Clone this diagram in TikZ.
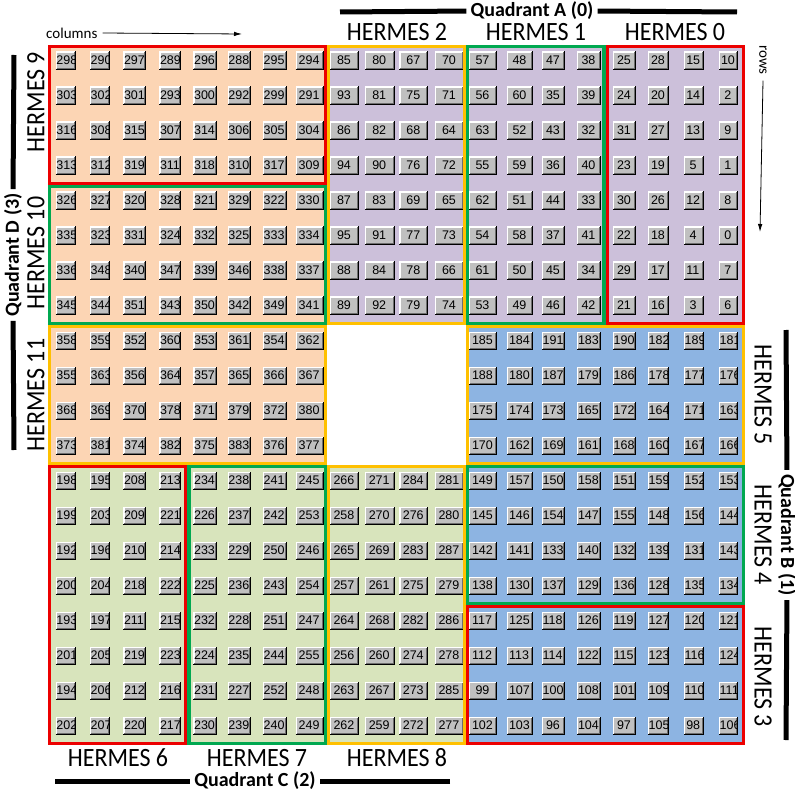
\documentclass[tikz,border=0pt]{standalone}
\usepackage{fontspec}
\setmainfont{Carlito}
\newfontfamily\numfont{Liberation Sans}
\usetikzlibrary{arrows.meta}
\definecolor{qpeach}{RGB}{252,213,180}
\definecolor{qlav}{RGB}{204,192,218}
\definecolor{qblue}{RGB}{141,180,226}
\definecolor{qgreen}{RGB}{216,228,188}
\definecolor{hred}{RGB}{236,0,0}
\definecolor{hgreen}{RGB}{0,168,80}
\definecolor{hyellow}{RGB}{255,192,0}
\definecolor{btnface}{RGB}{192,192,192}
\definecolor{btnshadow}{RGB}{110,110,110}
\def\colL{{55.7,90,123.3,159.3,193.3,227.7,262.7,295.7,330,365,399.3,435,469,507,542,577,613,648,684,719}}
\def\colW{{20,20,22.5,22,23.5,23.5,24,28,29,29.5,29,29,28,26,23,24,23,21,19.5,19}}
\def\btnH{18.5}
\newcommand\tallT[2]{\scalebox{1}[#1]{#2}}
\newcommand\mybutton[3]{%
  \pgfmathsetmacro\btL{\colL[#2]}%
  \pgfmathsetmacro\btW{\colW[#2]}%
  \pgfmathsetmacro\btT{51.5+35*#1}%
  \pgfmathsetmacro\btR{\btL+\btW}%
  \pgfmathsetmacro\btB{\btT+\btnH}%
  \pgfmathsetmacro\btN{#3<10 ? 1 : (#3<100 ? 2 : 3)}%
  \pgfmathsetmacro\btX{\btL+max(0.5,(\btW-1.5-6.95*\btN)/2)}%
  \fill[btnface] (\btL,\btT) rectangle (\btR,\btB);
  \draw[white,line width=1.2pt] (\btL+0.6,\btB-1) -- (\btL+0.6,\btT+0.6) -- (\btR-1,\btT+0.6);
  \draw[btnshadow,line width=1pt] (\btL+1,\btB-1.5) -- (\btR-1.5,\btB-1.5) -- (\btR-1.5,\btT+1);
  \draw[black,line width=1pt] (\btL,\btB-0.5) -- (\btR-0.5,\btB-0.5) -- (\btR-0.5,\btT);
  \begin{scope}
    \clip (\btL,\btT) rectangle (\btR-1.5,\btB);
    \node[numtxt] (n#3) at (\btX,\btT+8.6) {#3};
  \end{scope}
}
\newcommand\btnrow[3]{%
  \foreach \v [count=\k from 0] in {#3} {%
    \pgfmathtruncatemacro\cc{#2+\k}%
    \mybutton{#1}{\cc}{\v}%
  }%
}
\begin{document}
\begin{tikzpicture}[x=1pt,y=-1pt,
  numtxt/.style={anchor=west,inner sep=0pt,font=\fontsize{12.5}{14}\numfont},
  hlab/.style={inner sep=0pt,font=\fontsize{24}{28}\selectfont},
  qlab/.style={inner sep=0pt,font=\fontsize{20}{24}\selectfont\bfseries},
  qbar/.style={line width=5pt,black,shorten >=4pt},
  hbox/.style={line width=3.5pt}]
\useasboundingbox (0,0) rectangle (795,794);
\fill[white] (0,0) rectangle (795,794);
% quadrant backgrounds
\fill[qpeach] (48,45) rectangle (326.8,465);
\fill[qlav] (326.8,45) rectangle (745,325);
\fill[qblue] (466.2,325) rectangle (745,745);
\fill[qgreen] (48,465) rectangle (466.2,745);
% buttons
\btnrow{0}{0}{298,290,297,289,296,288,295,294,85,80,67,70,57,48,47,38,25,28,15,10}
\btnrow{1}{0}{303,302,301,293,300,292,299,291,93,81,75,71,56,60,35,39,24,20,14,2}
\btnrow{2}{0}{316,308,315,307,314,306,305,304,86,82,68,64,63,52,43,32,31,27,13,9}
\btnrow{3}{0}{313,312,319,311,318,310,317,309,94,90,76,72,55,59,36,40,23,19,5,1}
\btnrow{4}{0}{326,327,320,328,321,329,322,330,87,83,69,65,62,51,44,33,30,26,12,8}
\btnrow{5}{0}{335,323,331,324,332,325,333,334,95,91,77,73,54,58,37,41,22,18,4,0}
\btnrow{6}{0}{336,348,340,347,339,346,338,337,88,84,78,66,61,50,45,34,29,17,11,7}
\btnrow{7}{0}{345,344,351,343,350,342,349,341,89,92,79,74,53,49,46,42,21,16,3,6}
\btnrow{8}{0}{358,359,352,360,353,361,354,362}
\btnrow{8}{12}{185,184,191,183,190,182,189,181}
\btnrow{9}{0}{355,363,356,364,357,365,366,367}
\btnrow{9}{12}{188,180,187,179,186,178,177,176}
\btnrow{10}{0}{368,369,370,378,371,379,372,380}
\btnrow{10}{12}{175,174,173,165,172,164,171,163}
\btnrow{11}{0}{373,381,374,382,375,383,376,377}
\btnrow{11}{12}{170,162,169,161,168,160,167,166}
\btnrow{12}{0}{198,195,208,213,234,238,241,245,266,271,284,281,149,157,150,158,151,159,152,153}
\btnrow{13}{0}{199,203,209,221,226,237,242,253,258,270,276,280,145,146,154,147,155,148,156,144}
\btnrow{14}{0}{192,196,210,214,233,229,250,246,265,269,283,287,142,141,133,140,132,139,131,143}
\btnrow{15}{0}{200,204,218,222,225,236,243,254,257,261,275,279,138,130,137,129,136,128,135,134}
\btnrow{16}{0}{193,197,211,215,232,228,251,247,264,268,282,286,117,125,118,126,119,127,120,121}
\btnrow{17}{0}{201,205,219,223,224,235,244,255,256,260,274,278,112,113,114,122,115,123,116,124}
\btnrow{18}{0}{194,206,212,216,231,227,252,248,263,267,273,285,99,107,100,108,101,109,110,111}
\btnrow{19}{0}{202,207,220,217,230,239,240,249,262,259,272,277,102,103,96,104,97,105,98,106}
% HERMES boxes: yellow, then red, then green
\draw[hbox,hyellow] (328.3,46.5) rectangle (464.7,323.5);   % HERMES 2
\draw[hbox,hyellow] (49.5,326.5) rectangle (325.3,463.5);   % HERMES 11
\draw[hbox,hyellow] (467.7,326.5) rectangle (743.5,463.5);  % HERMES 5
\draw[hbox,hyellow] (328.3,466.5) rectangle (464.7,743.5);  % HERMES 8
\draw[hbox,hred] (49.5,46.5) rectangle (325.3,183.5);       % HERMES 9
\draw[hbox,hred] (607.1,46.5) rectangle (743.5,323.5);      % HERMES 0
\draw[hbox,hred] (467.7,606.5) rectangle (743.5,743.5);     % HERMES 3
\draw[hbox,hred] (49.5,466.5) rectangle (185.9,743.5);      % HERMES 6
\draw[hbox,hgreen] (49.5,186.5) rectangle (325.3,323.5);    % HERMES 10
\draw[hbox,hgreen] (467.7,46.5) rectangle (604.1,323.5);    % HERMES 1
\draw[hbox,hgreen] (467.7,466.5) rectangle (743.5,603.5);   % HERMES 4
\draw[hbox,hgreen] (188.9,466.5) rectangle (325.3,743.5);   % HERMES 7
% top labels
\node[hlab] (lh2) at (397,32) {\tallT{1.1}{HERMES 2}};
\node[hlab] (lh1) at (536,32) {\tallT{1.1}{HERMES 1}};
\node[hlab] (lh0) at (675,32) {\tallT{1.1}{HERMES 0}};
\node[qlab] (lqa) at (532,11) {Quadrant A (0)};
\coordinate (qaL) at (340,12);
\coordinate (qaR) at (737,12);
\draw[qbar] (qaL) -- (lqa.west);
\draw[qbar] (qaR) -- (lqa.east);
% bottom labels
\node[hlab] (lh6) at (118,758) {\tallT{1.1}{HERMES 6}};
\node[hlab] (lh7) at (257,758) {\tallT{1.1}{HERMES 7}};
\node[hlab] (lh8) at (397,758) {\tallT{1.1}{HERMES 8}};
\node[qlab] (lqc) at (255,781) {Quadrant C (2)};
\coordinate (qcL) at (55,781);
\coordinate (qcR) at (450,781);
\draw[qbar] (qcL) -- (lqc.west);
\draw[qbar] (qcR) -- (lqc.east);
% left labels
\node[hlab,rotate=90] (lh9) at (36,102) {\tallT{1.1}{HERMES 9}};
\node[hlab,rotate=90] (lh10) at (36,253) {\tallT{1.1}{HERMES 10}};
\node[hlab,rotate=90] (lh11) at (36,395) {\tallT{1.1}{HERMES 11}};
\node[qlab,rotate=90] (lqd) at (13,255) {Quadrant D (3)};
\coordinate (qdT) at (14,55);
\coordinate (qdB) at (14,450);
\draw[qbar] (qdT) -- (lqd.east);
\draw[qbar] (qdB) -- (lqd.west);
% right labels
\node[hlab,rotate=-90] (lh5) at (763,395) {\tallT{1.1}{HERMES 5}};
\node[hlab,rotate=-90] (lh4) at (763,535) {\tallT{1.1}{HERMES 4}};
\node[hlab,rotate=-90] (lh3) at (763,677) {\tallT{1.1}{HERMES 3}};
\node[qlab,rotate=-90] (lqb) at (787,535) {Quadrant B (1)};
\coordinate (qbT) at (786,330);
\coordinate (qbB) at (786,740);
\draw[qbar] (qbT) -- (lqb.west);
\draw[qbar] (qbB) -- (lqb.east);
% axis hints
\node[anchor=west,inner sep=0pt,font=\fontsize{15}{17}\selectfont] (lcol) at (46,33) {columns};
\coordinate (colEnd) at (242,34);
\draw[line width=0.8pt,-{Latex[length=8pt,width=4.5pt]}] ([xshift=5pt]lcol.east) -- (colEnd);
\node[anchor=west,inner sep=0pt,rotate=-90,font=\fontsize{15}{17}\selectfont] (lrow) at (763,45) {rows};
\coordinate (rowEnd) at (760,232);
\draw[line width=0.8pt,-{Latex[length=8pt,width=4.5pt]}] ([yshift=-6pt]lrow.east) -- (rowEnd);
\end{tikzpicture}
\end{document}
